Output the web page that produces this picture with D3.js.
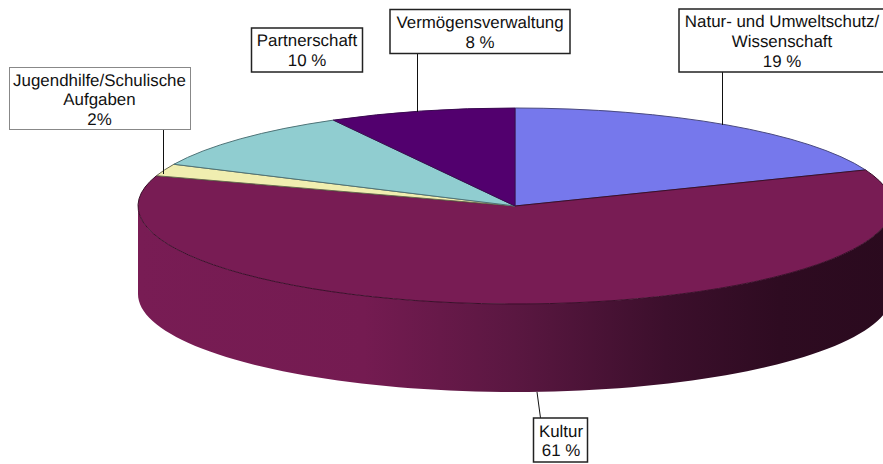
<!DOCTYPE html>
<html><head><meta charset="utf-8">
<script src="https://cdn.jsdelivr.net/npm/d3@7"></script>
<style>html,body{margin:0;padding:0;background:#fff}svg{display:block}text{font-family:"Liberation Sans",Arial,sans-serif;font-size:16.9px;fill:#111;text-anchor:middle;text-rendering:geometricPrecision}</style>
</head><body><div id="c"></div>
<script>
const categories=["Natur- und Umweltschutz/ Wissenschaft","Kultur","Jugendhilfe/Schulische Aufgaben","Partnerschaft","Vermögensverwaltung"];
const shares=[19,61,2,10,8];
const sliceColors=["#7678ec","#781c54","#f0eeb0","#90cdd0","#52006e"];
const sliceEdges=["#4a4a80","#3a0f2a","#6a6a50","#4f7478","#3a0a50"];
const labelLines=[["Natur- und Umweltschutz/","Wissenschaft","19 %"],["Kultur","61 %"],["Jugendhilfe/Schulische","Aufgaben","2%"],["Partnerschaft","10 %"],["Vermögensverwaltung","8 %"]];
const W=883,H=464,cx=515,cy=206,rx=377,ry=98,depth=88;
const boxes=[
 {x:679,y:9,w:215,h:63,bw:1.5,bc:"#222",lead:[[722.5,72],[722.5,125]],base:[27,47,67],tx:782},
 {x:533.5,y:418,w:54,h:44,bw:1.5,bc:"#222",lead:[[537,392],[540.5,418]],base:[437,456],tx:561},
 {x:9.5,y:67.5,w:181,h:62,bw:1,bc:"#888",lead:[[163.5,130],[163.5,174]],base:[86,105,125],tx:99.5},
 {x:251.5,y:28,w:111,h:44,bw:1.5,bc:"#222",lead:[],base:[46,66],tx:307},
 {x:390,y:9.5,w:180,h:44,bw:1.5,bc:"#222",lead:[[417.5,54],[417.5,112]],base:[28,48],tx:480}
];
const svg=d3.select("#c").append("svg").attr("width",W).attr("height",H);
const pie=d3.pie().sort(null).value(d=>d);
const arcs=pie(shares);
const arc=d3.arc().innerRadius(0).outerRadius(rx);
const defs=svg.append("defs");
const grad=defs.append("linearGradient").attr("id","side").attr("gradientUnits","userSpaceOnUse").attr("x1",cx-rx).attr("x2",cx+rx).attr("y1",0).attr("y2",0);
[[0,"#781c54"],[0.3,"#741b51"],[0.5,"#5a1741"],[0.7,"#3c0f2c"],[0.85,"#2e0b21"],[1,"#2a0a1e"]].forEach(s=>grad.append("stop").attr("offset",s[0]).attr("stop-color",s[1]));
// side wall: front half of the ellipse, extruded by depth
const front=d3.range(90,270.01,2).map(a=>a*Math.PI/180);
const px=a=>cx+rx*Math.sin(a), py=a=>cy-ry*Math.cos(a);
const sideArea=d3.area().x(px).y0(py).y1(a=>py(a)+depth).curve(d3.curveLinear);
svg.append("path").attr("d",sideArea(front)).attr("fill","url(#side)");
// top face
const topFace=svg.append("g").attr("transform",`translate(${cx},${cy}) scale(1,${ry/rx})`);
topFace.selectAll("path").data(arcs).join("path").attr("d",arc)
 .attr("fill",(d,i)=>sliceColors[i]).attr("stroke",(d,i)=>sliceEdges[i]).attr("stroke-width",1)
 .attr("vector-effect","non-scaling-stroke");
// leaders and labels
const g=svg.append("g");
boxes.forEach((b,i)=>{
 if(b.lead.length) g.append("line").attr("x1",b.lead[0][0]).attr("y1",b.lead[0][1]).attr("x2",b.lead[1][0]).attr("y2",b.lead[1][1]).attr("stroke","#111").attr("stroke-width",1);
 g.append("rect").attr("x",b.x).attr("y",b.y).attr("width",b.w).attr("height",b.h).attr("fill","#fff").attr("stroke",b.bc).attr("stroke-width",b.bw);
 labelLines[i].forEach((t,j)=>g.append("text").attr("x",b.tx).attr("y",b.base[j]).text(t));
});
</script></body></html>
